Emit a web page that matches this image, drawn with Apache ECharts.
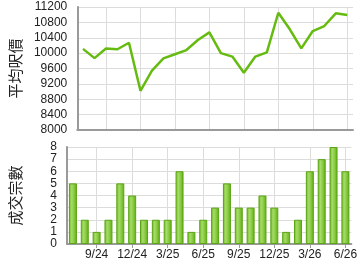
<!DOCTYPE html>
<html>
<head>
<meta charset="utf-8">
<script src="https://cdn.jsdelivr.net/npm/echarts@6/dist/echarts.min.js"></script>
<style>html,body{margin:0;padding:0;background:#fff}#c{width:360px;height:270px}</style>
</head>
<body>
<div id="c"></div>
<script>
var months = ['7/24','8/24','9/24','10/24','11/24','12/24','1/25','2/25','3/25','4/25','5/25','6/25','7/25','8/25','9/25','10/25','11/25','12/25','1/26','2/26','3/26','4/26','5/26','6/26'];
var avgPrice = [10110,9870,10120,10100,10270,9020,9545,9865,9970,10080,10340,10540,10000,9910,9490,9910,10020,11050,10620,10125,10575,10705,11035,10990];
var volume = [5,2,1,2,5,4,2,2,2,6,1,2,3,5,3,3,4,3,1,2,6,7,8,6];
var priceAxisName = '平均呎價';
var volumeAxisName = '成交宗數';

var chart = echarts.init(document.getElementById('c'), null, {renderer: 'canvas'});
var fontFam = '"Liberation Sans", Arial, sans-serif';
var axisLineStyle = {color: '#9a9a9a', width: 2};
var gridLine = {color: '#dcdcdc', width: 1};
function showIdx(idx){ return idx % 3 === 2; }
function plain(v){ return String(v); }

chart.setOption({
  animation: false,
  grid: [
    {left: 65, right: 7, top: 7, height: 123},
    {left: 65, right: 7, top: 147, height: 97}
  ],
  xAxis: [
    {
      type: 'category', gridIndex: 0, data: months, boundaryGap: true,
      axisLine: {show: true, lineStyle: axisLineStyle},
      axisTick: {show: false},
      axisLabel: {show: false},
      splitLine: {show: true, interval: showIdx, alignWithLabel: true, lineStyle: gridLine}
    },
    {
      type: 'category', gridIndex: 1, data: months, boundaryGap: true,
      axisLine: {show: true, lineStyle: axisLineStyle},
      axisTick: {show: true, interval: showIdx, alignWithLabel: true, length: 4, lineStyle: {color: '#9a9a9a'}},
      axisLabel: {show: true, interval: showIdx, margin: 5, fontSize: 12, color: '#222', fontFamily: fontFam},
      splitLine: {show: true, interval: showIdx, alignWithLabel: true, lineStyle: gridLine}
    }
  ],
  yAxis: [
    {
      type: 'value', gridIndex: 0, min: 8000, max: 11200, interval: 400,
      name: priceAxisName, nameLocation: 'middle', nameRotate: 90, nameGap: 44,
      nameTextStyle: {fontSize: 15, color: '#222', fontFamily: '"Noto Sans CJK TC", sans-serif'},
      axisLine: {show: true, lineStyle: axisLineStyle},
      axisTick: {show: false},
      axisLabel: {margin: 10, fontSize: 12, color: '#222', fontFamily: fontFam, formatter: plain},
      splitLine: {show: true, lineStyle: gridLine}
    },
    {
      type: 'value', gridIndex: 1, min: 0, max: 8, interval: 1,
      name: volumeAxisName, nameLocation: 'middle', nameRotate: 90, nameGap: 44,
      nameTextStyle: {fontSize: 15, color: '#222', fontFamily: '"Noto Sans CJK TC", sans-serif'},
      axisLine: {show: true, lineStyle: axisLineStyle},
      axisTick: {show: false},
      axisLabel: {margin: 10, fontSize: 12, color: '#222', fontFamily: fontFam, formatter: plain},
      splitLine: {show: true, lineStyle: gridLine}
    }
  ],
  series: [
    {
      type: 'line', xAxisIndex: 0, yAxisIndex: 0, data: avgPrice,
      symbol: 'none', lineStyle: {color: '#66bb11', width: 2.5}
    },
    {
      type: 'bar', xAxisIndex: 1, yAxisIndex: 1, data: volume, barWidth: 8,
      itemStyle: {
        borderColor: '#5aa514', borderWidth: 1,
        color: new echarts.graphic.LinearGradient(0, 0, 1, 0, [
          {offset: 0, color: '#6cbc1c'},
          {offset: 0.35, color: '#a6da6a'},
          {offset: 0.6, color: '#8ccd45'},
          {offset: 1, color: '#5cab10'}
        ])
      }
    }
  ]
});
</script>
</body>
</html>
